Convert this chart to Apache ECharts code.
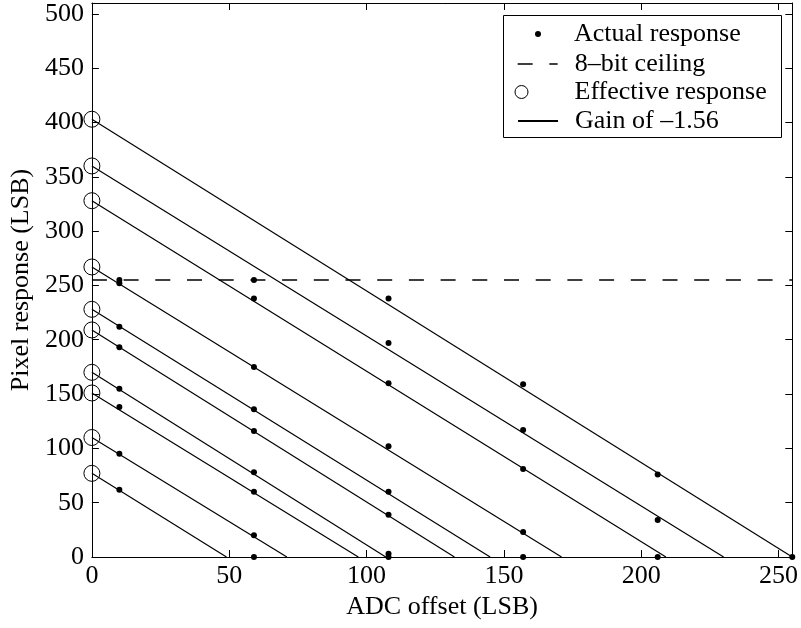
<!DOCTYPE html>
<html><head><meta charset="utf-8">
<script src="https://cdn.jsdelivr.net/npm/echarts@6/dist/echarts.min.js"></script>
<style>html,body{margin:0;padding:0;background:#fff}#c{width:801px;height:628px}</style>
</head><body><div id="c"></div>
<script>
// ---- data ----
const xTickValues = [0, 50, 100, 150, 200, 250];
const yTickValues = [0, 50, 100, 150, 200, 250, 300, 350, 400, 450, 500];
const adcOffsets = [10, 59, 108, 157, 206, 255];
const actualAt10 = [255, 252, 212, 193, 155, 138, 95, 62];
const actualAt59 = [255, 238, 175, 136, 116, 78, 60, 20, 0];
const actualAt108 = [238, 197, 160, 102, 60, 39, 3, 0];
const actualAt157 = [159, 117, 81, 23, 0];
const actualAt206 = [76, 34, 0];
const actualAt255 = [0];
const effectiveResponse = [403, 360, 328, 267, 228, 209, 170, 151, 110, 77];
const gainLineEndX = [255, 230, 209, 171, 145, 132, 107, 97, 71, 49];
const ceilingValue = 255;
const ceilingXRange = [0, 255];

const NAME_ACTUAL = 'Actual response';
const NAME_CEIL = '8\u2013bit ceiling';
const NAME_EFF = 'Effective response';
const NAME_GAIN = 'Gain of \u20131.56';

// ---- build ----
const FONT = 'Liberation Serif';
const actualTable = [actualAt10, actualAt59, actualAt108, actualAt157, actualAt206, actualAt255];
const actualPoints = [];
actualTable.forEach((vals, i) => vals.forEach(v => actualPoints.push([adcOffsets[i], v])));
const effectivePoints = effectiveResponse.map(v => [0, v]);

const series = [];
effectiveResponse.forEach((y0, i) => {
  series.push({
    type: 'line', name: NAME_GAIN, data: [[0, y0], [gainLineEndX[i], 0]],
    symbol: 'none', lineStyle: { color: '#000', width: 1.2, opacity: 1 }, itemStyle: { color: '#000' },
    silent: true, z: 2
  });
});
series.push({
  type: 'line', name: NAME_CEIL, data: [[ceilingXRange[0], ceilingValue], [ceilingXRange[1], ceilingValue]],
  symbol: 'none', lineStyle: { color: '#000', width: 1.5, opacity: 1, type: [15, 16.7] }, itemStyle: { color: '#000' },
  silent: true, z: 2
});
series.push({
  type: 'scatter', name: NAME_ACTUAL, data: actualPoints, symbol: 'circle', symbolSize: 6,
  itemStyle: { color: '#000', opacity: 1 }, clip: false, silent: true, z: 3
});
series.push({
  type: 'scatter', name: NAME_EFF, data: effectivePoints, symbol: 'circle', symbolSize: 16,
  itemStyle: { color: 'rgba(0,0,0,0)', borderColor: '#000', borderWidth: 1, opacity: 1 }, clip: false, silent: true, z: 3
});

const txt = { fontFamily: FONT, fontSize: 26, color: '#000' };
const axisLine = { show: true, onZero: false, lineStyle: { color: '#000', width: 1 } };
const axisTick = { show: true, inside: true, length: 7, lineStyle: { color: '#000', width: 1 } };

function legendItem(name, left, top, w, h, padLeft, extra) {
  return Object.assign({
    data: [name], orient: 'vertical', left: left, top: top, padding: 0, itemGap: 0,
    itemWidth: w, itemHeight: h, selectedMode: false, z: 5,
    textStyle: Object.assign({}, txt, { padding: [0, 0, 0, padLeft] })
  }, extra || {});
}

const option = {
  animation: false,
  backgroundColor: '#fff',
  grid: { left: 90, right: 6, top: 3, bottom: 71, containLabel: false },
  xAxis: [
    { type: 'value', position: 'bottom', min: xTickValues[0], max: 255, interval: 50,
      axisLine, axisTick, splitLine: { show: false },
      axisLabel: Object.assign({ margin: 6, showMaxLabel: false, hideOverlap: false }, txt),
      name: 'ADC offset (LSB)', nameLocation: 'middle', nameGap: 32, nameTextStyle: txt },
    { type: 'value', position: 'top', min: xTickValues[0], max: 255, interval: 50,
      axisLine, axisTick, splitLine: { show: false }, axisLabel: { show: false } }
  ],
  yAxis: [
    { type: 'value', position: 'left', min: yTickValues[0], max: 510, interval: 50,
      axisLine, axisTick, splitLine: { show: false },
      axisLabel: Object.assign({ margin: 8, showMaxLabel: false, hideOverlap: false }, txt),
      name: 'Pixel response (LSB)', nameLocation: 'middle', nameGap: 52, nameRotate: 90, nameTextStyle: txt },
    { type: 'value', position: 'right', min: yTickValues[0], max: 510, interval: 50,
      axisLine, axisTick, splitLine: { show: false }, axisLabel: { show: false } }
  ],
  graphic: [{
    type: 'rect', shape: { x: 503.5, y: 15.5, width: 278, height: 122 },
    style: { fill: '#fff', stroke: '#000', lineWidth: 1 }, z: 4, silent: true
  }],
  legend: [
    legendItem(NAME_ACTUAL, 535, 21, 6, 6, 28, { itemStyle: { color: '#000', opacity: 1 } }),
    legendItem(NAME_CEIL, 517, 51, 40, 14, 12, { itemStyle: { opacity: 0 }, lineStyle: { width: 1.3 } }),
    legendItem(NAME_EFF, 514.5, 79, 13, 13, 41.5, {
      itemStyle: { color: 'rgba(0,0,0,0)', borderColor: '#000', borderWidth: 1 }
    }),
    legendItem(NAME_GAIN, 517, 108, 40, 14, 12, { itemStyle: { opacity: 0 } })
  ],
  series
};
const chart = echarts.init(document.getElementById('c'), null, { renderer: 'canvas' });
chart.setOption(option);
</script>
</body></html>
